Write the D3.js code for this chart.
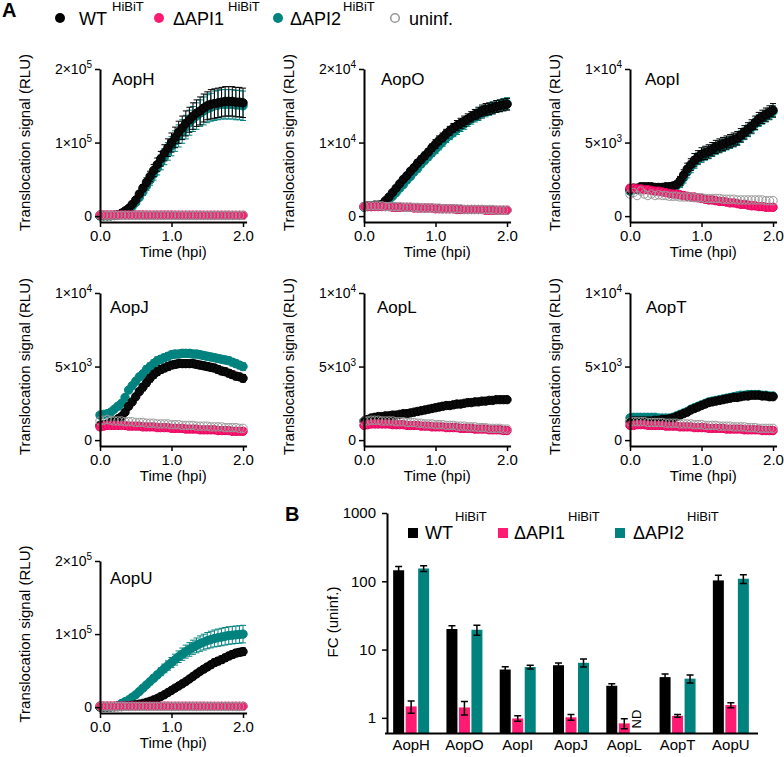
<!DOCTYPE html>
<html>
<head>
<meta charset="utf-8">
<script src="https://cdn.jsdelivr.net/npm/d3@7"></script>
<style>
  body { margin: 0; background: #fff; }
  svg { font-family: "Liberation Sans", Arial, sans-serif; }
</style>
</head>
<body>
<div id="fig"></div>
<script>
// time points (hpi)
const times = [0,0.05,0.1,0.15,0.2,0.25,0.3,0.35,0.4,0.45,0.5,0.55,0.6,0.65,0.7,0.75,0.8,0.85,0.9,0.95,1.0,
  1.05,1.1,1.15,1.2,1.25,1.3,1.35,1.4,1.45,1.5,1.55,1.6,1.65,1.7,1.75,1.8,1.85,1.9,1.95,2.0];
const xTicks = [0, 1, 2];

// translocation signal, in 10^3 RLU
const aopH_wt = [0.5,0.5,0.5,0.6,1,2,4,7,10.5,16,22,30,38,46,54,62,70,78,86,93,100,107,114,120,126,131,136,140,143,147,150,152,153,154,155,156,156,156,155,155,154];
const aopH_wtSd = [0,0,0,0,0.2,0.4,0.6,1,1.5,2,3,4,5,6,7,8,9,10,11,12,13,14,15,16,17,17,18,18,19,19,19,20,20,20,20,20,20,20,20,20,20];
const aopH_api2 = [0.5,0.5,0.5,0.5,0.8,1.5,3,5.5,8.5,13,18.5,25.5,33,41,49,57,65,73,81,88,95,102,109,115,121,127,132,136,140,143,146,148,150,151,152,152,152,152,151,151,150];
const aopH_api2Sd = [0,0,0,0,0.2,0.4,0.6,1,1.5,2,3,4,5,6,7,8,9,10,11,12,13,14,15,16,16,17,17,18,18,19,19,19,20,20,20,20,20,20,20,20,20];
const aopH_api1 = [1.6,1.6,1.5,1.5,1.5,1.5,1.5,1.5,1.5,1.5,1.5,1.5,1.5,1.4,1.4,1.4,1.4,1.4,1.4,1.4,1.4,1.3,1.3,1.3,1.3,1.3,1.3,1.3,1.3,1.2,1.2,1.2,1.2,1.2,1.2,1.2,1.2,1.1,1.1,1.1,1.1];
const aopH_uninf = [1.2,1.3,1.2,1.1,1.2,1.1,1.1,1.1,1.1,1.1,1.0,1.0,1.0,1.0,1.0,1.0,1.0,1.0,1.0,1.0,1.0,0.9,0.9,0.9,0.9,0.9,0.9,0.9,0.9,0.9,0.9,0.9,0.9,0.9,0.9,0.9,0.9,0.9,0.9,0.9,0.9];

const aopO_wt = [1.3,1.4,1.4,1.5,1.5,1.6,2.1,2.6,3.2,3.8,4.4,5.0,5.5,6.1,6.6,7.2,7.7,8.2,8.7,9.3,9.8,10.3,10.7,11.2,11.6,12.0,12.3,12.6,12.9,13.2,13.5,13.8,14.0,14.3,14.5,14.6,14.7,14.9,15.0,15.1,15.2];
const aopO_wtSd = [0.1,0.1,0.1,0.1,0.1,0.1,0.2,0.2,0.3,0.3,0.3,0.4,0.4,0.4,0.4,0.5,0.5,0.5,0.5,0.5,0.6,0.6,0.6,0.6,0.6,0.6,0.7,0.7,0.7,0.7,0.7,0.7,0.8,0.8,0.8,0.8,0.8,0.8,0.8,0.8,0.8];
const aopO_api2 = [1.2,1.3,1.3,1.4,1.4,1.5,1.8,2.2,2.7,3.2,3.8,4.3,4.9,5.4,6.0,6.5,7.1,7.6,8.1,8.6,9.1,9.6,10.1,10.6,11.0,11.4,11.8,12.2,12.5,12.9,13.2,13.5,13.8,14.1,14.3,14.5,14.7,14.9,15.0,15.2,15.3];
const aopO_api2Sd = [0.1,0.1,0.1,0.1,0.1,0.1,0.2,0.2,0.3,0.3,0.3,0.4,0.4,0.4,0.4,0.5,0.5,0.5,0.5,0.5,0.6,0.6,0.6,0.6,0.6,0.6,0.7,0.7,0.7,0.7,0.7,0.7,0.8,0.8,0.8,0.8,0.8,0.8,0.8,0.8,0.8];
const aopO_api1 = [1.3,1.3,1.3,1.3,1.3,1.3,1.3,1.3,1.2,1.2,1.2,1.2,1.2,1.2,1.1,1.1,1.1,1.1,1.1,1.1,1.0,1.0,1.0,1.0,1.0,1.0,0.9,0.9,0.9,0.9,0.9,0.9,0.9,0.9,0.8,0.8,0.8,0.8,0.8,0.8,0.8];
const aopO_uninf = [1.3,1.4,1.4,1.4,1.4,1.4,1.3,1.3,1.3,1.3,1.3,1.2,1.2,1.2,1.2,1.2,1.1,1.1,1.1,1.1,1.1,1.1,1.0,1.0,1.0,1.0,1.0,1.0,0.9,0.9,0.9,0.9,0.9,0.9,0.9,0.9,0.9,0.8,0.8,0.8,0.8];

const aopI_wt = [1.8,1.9,1.9,2.0,2.0,2.0,2.0,1.95,1.95,1.95,2.0,2.0,2.05,2.15,2.4,2.8,3.2,3.5,3.8,4.0,4.2,4.3,4.4,4.55,4.7,4.8,4.9,5.0,5.1,5.2,5.3,5.5,5.7,5.9,6.1,6.35,6.6,6.75,6.9,7.05,7.2];
const aopI_wtSd = [0.1,0.1,0.1,0.1,0.1,0.1,0.1,0.1,0.1,0.1,0.1,0.1,0.15,0.2,0.3,0.35,0.4,0.4,0.45,0.45,0.45,0.45,0.45,0.45,0.45,0.45,0.45,0.45,0.45,0.45,0.45,0.45,0.45,0.45,0.45,0.45,0.45,0.45,0.45,0.45,0.45];
const aopI_api2 = [1.7,1.8,1.8,1.9,1.9,1.9,1.9,1.9,1.9,1.9,1.9,1.95,2.0,2.05,2.25,2.6,3.0,3.35,3.65,3.9,4.05,4.2,4.3,4.45,4.6,4.7,4.8,4.9,5.0,5.1,5.2,5.4,5.6,5.8,6.0,6.25,6.5,6.65,6.8,6.95,7.1];
const aopI_api2Sd = [0.1,0.1,0.1,0.1,0.1,0.1,0.1,0.1,0.1,0.1,0.1,0.1,0.15,0.2,0.3,0.35,0.4,0.4,0.4,0.4,0.4,0.4,0.4,0.4,0.4,0.4,0.4,0.4,0.4,0.4,0.4,0.4,0.4,0.4,0.4,0.4,0.4,0.4,0.4,0.4,0.4];
const aopI_api1 = [1.9,1.9,1.85,1.85,1.8,1.8,1.75,1.7,1.7,1.65,1.6,1.55,1.5,1.5,1.45,1.4,1.35,1.3,1.3,1.25,1.2,1.15,1.1,1.1,1.05,1.0,1.0,0.95,0.9,0.9,0.85,0.8,0.8,0.75,0.7,0.7,0.65,0.65,0.6,0.6,0.6];
const aopI_uninf = [1.5,1.6,1.4,1.7,1.5,1.4,1.5,1.4,1.45,1.4,1.4,1.35,1.35,1.35,1.3,1.3,1.3,1.3,1.25,1.25,1.25,1.2,1.2,1.2,1.2,1.2,1.15,1.15,1.15,1.15,1.1,1.1,1.1,1.1,1.1,1.1,1.1,1.1,1.05,1.05,1.05];

const aopJ_wt = [1.0,1.05,1.1,1.2,1.3,1.45,1.6,1.9,2.3,2.6,2.95,3.3,3.6,3.9,4.2,4.45,4.65,4.8,4.9,5.0,5.1,5.15,5.2,5.2,5.2,5.2,5.2,5.15,5.1,5.05,5.0,4.95,4.9,4.8,4.7,4.65,4.55,4.45,4.35,4.3,4.2];
const aopJ_wtSd = [0.1,0.1,0.1,0.1,0.1,0.1,0.15,0.15,0.2,0.2,0.2,0.2,0.25,0.25,0.25,0.25,0.25,0.25,0.25,0.25,0.25,0.25,0.25,0.25,0.25,0.25,0.25,0.25,0.25,0.25,0.25,0.25,0.25,0.25,0.25,0.25,0.25,0.25,0.25,0.25,0.25];
const aopJ_api2 = [1.7,1.75,1.8,1.9,2.1,2.3,2.5,2.9,3.4,3.7,4.0,4.3,4.5,4.8,5.0,5.2,5.4,5.5,5.6,5.7,5.8,5.85,5.85,5.9,5.9,5.9,5.85,5.85,5.8,5.75,5.7,5.65,5.6,5.55,5.5,5.45,5.4,5.3,5.2,5.1,5.0];
const aopJ_api2Sd = [0.1,0.1,0.1,0.1,0.1,0.1,0.15,0.15,0.2,0.2,0.2,0.2,0.25,0.25,0.25,0.25,0.25,0.25,0.25,0.25,0.25,0.25,0.25,0.25,0.25,0.25,0.25,0.25,0.25,0.25,0.25,0.25,0.25,0.25,0.25,0.25,0.25,0.25,0.25,0.25,0.25];
const aopJ_api1 = [0.9,0.95,1.0,1.0,1.0,1.0,1.0,1.0,0.95,0.95,0.95,0.95,0.9,0.9,0.9,0.9,0.85,0.85,0.85,0.85,0.8,0.8,0.8,0.8,0.75,0.75,0.75,0.75,0.7,0.7,0.7,0.7,0.7,0.65,0.65,0.65,0.65,0.6,0.6,0.6,0.6];
const aopJ_uninf = [1.3,1.35,1.4,1.35,1.3,1.3,1.3,1.25,1.25,1.25,1.2,1.2,1.2,1.15,1.15,1.15,1.1,1.1,1.1,1.1,1.05,1.05,1.05,1.0,1.0,1.0,1.0,0.95,0.95,0.95,0.95,0.9,0.9,0.9,0.9,0.85,0.85,0.85,0.85,0.8,0.8];

const aopL_wt = [1.3,1.4,1.5,1.55,1.6,1.6,1.65,1.65,1.7,1.7,1.75,1.8,1.8,1.85,1.9,1.95,2.0,2.05,2.1,2.15,2.2,2.25,2.3,2.35,2.35,2.4,2.45,2.45,2.5,2.55,2.55,2.6,2.6,2.65,2.65,2.7,2.7,2.75,2.75,2.75,2.75];
const aopL_api1 = [1.0,1.05,1.1,1.1,1.1,1.1,1.1,1.1,1.05,1.05,1.05,1.05,1.0,1.0,1.0,1.0,0.95,0.95,0.95,0.9,0.9,0.9,0.9,0.85,0.85,0.85,0.85,0.8,0.8,0.8,0.8,0.75,0.75,0.75,0.75,0.7,0.7,0.7,0.7,0.65,0.65];
const aopL_uninf = [1.3,1.3,1.35,1.35,1.35,1.3,1.3,1.3,1.3,1.25,1.25,1.25,1.2,1.2,1.2,1.15,1.15,1.1,1.1,1.1,1.05,1.05,1.05,1.0,1.0,1.0,0.95,0.95,0.95,0.9,0.9,0.9,0.85,0.85,0.85,0.8,0.8,0.8,0.8,0.75,0.75];

const aopT_wt = [1.25,1.3,1.3,1.3,1.3,1.3,1.3,1.35,1.35,1.4,1.4,1.45,1.5,1.6,1.7,1.8,1.9,2.05,2.15,2.25,2.35,2.45,2.55,2.6,2.65,2.7,2.75,2.8,2.85,2.9,2.9,2.95,3.0,3.0,3.05,3.05,3.05,3.0,3.0,2.95,2.95];
const aopT_api2 = [1.5,1.55,1.55,1.55,1.55,1.55,1.55,1.55,1.5,1.5,1.5,1.5,1.55,1.65,1.75,1.85,1.95,2.1,2.2,2.3,2.4,2.5,2.6,2.65,2.7,2.75,2.8,2.85,2.9,2.95,3.0,3.05,3.05,3.1,3.1,3.1,3.1,3.05,3.05,3.0,3.0];
const aopT_api1 = [1.0,1.0,1.05,1.05,1.05,1.0,1.0,1.0,1.0,1.0,0.95,0.95,0.95,0.95,0.9,0.9,0.9,0.9,0.85,0.85,0.85,0.85,0.8,0.8,0.8,0.8,0.8,0.75,0.75,0.75,0.75,0.75,0.7,0.7,0.7,0.7,0.7,0.65,0.65,0.65,0.65];
const aopT_uninf = [1.25,1.25,1.25,1.25,1.25,1.2,1.2,1.2,1.2,1.2,1.15,1.15,1.15,1.15,1.1,1.1,1.1,1.1,1.05,1.05,1.05,1.0,1.0,1.0,1.0,0.95,0.95,0.95,0.95,0.9,0.9,0.9,0.9,0.85,0.85,0.85,0.8,0.8,0.8,0.8,0.8];

const aopU_wt = [0.3,0.3,0.3,0.4,0.5,0.6,0.8,1.2,1.8,2.5,3.3,4.2,5.2,6.5,8,10,12,14.5,17,20,23,26,29,32,35,38.5,42,45.5,49,52,55,58,61,63,65,67.5,70,72,74,75,76];
const aopU_wtSd = [0,0,0,0,0,0,0,0.1,0.2,0.3,0.4,0.5,0.6,0.7,0.9,1.1,1.3,1.5,1.8,2,2.3,2.5,2.8,3,3.2,3.4,3.6,3.8,4,4.2,4.4,4.6,4.8,5,5,5,5,5,5,5,5];
const aopU_api2 = [0.5,0.5,0.5,0.5,0.8,2,5,7.5,10,13.5,17,21.5,26,30.5,35,39.5,44,48.5,53,57,61,65,69,72.5,76,79,82,84.5,87,89,91,92.5,94,95,96,97,98,98.5,99,99.5,100];
const aopU_api2Sd = [0,0,0,0,0,0.2,0.5,0.8,1.1,1.5,1.9,2.4,2.9,3.4,3.9,4.4,4.9,5.4,5.9,6.4,6.9,7.4,7.9,8.4,8.9,9.3,9.7,10.1,10.5,10.8,11.1,11.4,11.6,11.8,12,12,12,12,12,12,12];
const aopU_api1 = [1.5,1.5,1.5,1.5,1.5,1.5,1.5,1.5,1.5,1.5,1.4,1.4,1.4,1.4,1.4,1.4,1.4,1.4,1.4,1.4,1.3,1.3,1.3,1.3,1.3,1.3,1.3,1.3,1.3,1.3,1.2,1.2,1.2,1.2,1.2,1.2,1.2,1.2,1.2,1.2,1.2];
const aopU_uninf = [1.1,1.2,1.1,1.1,1.0,1.0,1.0,1.0,1.0,1.0,1.0,1.0,1.0,1.0,1.0,1.0,1.0,1.0,1.0,1.0,0.9,0.9,0.9,0.9,0.9,0.9,0.9,0.9,0.9,0.9,0.9,0.9,0.9,0.9,0.9,0.9,0.9,0.9,0.9,0.9,0.9];

const panelNames = ["AopH", "AopO", "AopI", "AopJ", "AopL", "AopT", "AopU"];
const yMax = [200, 20, 10, 10, 10, 10, 200];
const yTicks = [[0, 100, 200], [0, 10, 20], [0, 5, 10], [0, 5, 10], [0, 5, 10], [0, 5, 10], [0, 100, 200]];
const yTickText = [
  ["0", "1×10^5", "2×10^5"], ["0", "1×10^4", "2×10^4"], ["0", "5×10^3", "1×10^4"],
  ["0", "5×10^3", "1×10^4"], ["0", "5×10^3", "1×10^4"], ["0", "5×10^3", "1×10^4"],
  ["0", "1×10^5", "2×10^5"]
];

// panel B: fold change over uninfected
const barGroups = ["AopH", "AopO", "AopI", "AopJ", "AopL", "AopT", "AopU"];
const fcWT = [145, 20, 5.1, 5.9, 2.95, 3.95, 103];
const fcWTsd = [20, 2.4, 0.5, 0.45, 0.22, 0.45, 20];
const fcAPI1 = [1.47, 1.42, 0.98, 1.02, 0.83, 1.07, 1.54];
const fcAPI1sd = [0.3, 0.32, 0.09, 0.1, 0.14, 0.05, 0.13];
const fcAPI2 = [154, 19.5, 5.55, 6.4, null, 3.75, 109];
const fcAPI2sd = [15, 3.3, 0.35, 0.85, null, 0.5, 16];
const fcTicks = [1, 10, 100, 1000];

const colWT = "#000000", colAPI1 = "#ff1a72", colAPI2 = "#00827f", colUninf = "#9a9a9a";

const panelSeries = [
  { wt: aopH_wt, wtSd: aopH_wtSd, api2: aopH_api2, api2Sd: aopH_api2Sd, api1: aopH_api1, uninf: aopH_uninf },
  { wt: aopO_wt, wtSd: aopO_wtSd, api2: aopO_api2, api2Sd: aopO_api2Sd, api1: aopO_api1, uninf: aopO_uninf },
  { wt: aopI_wt, wtSd: aopI_wtSd, api2: aopI_api2, api2Sd: aopI_api2Sd, api1: aopI_api1, uninf: aopI_uninf },
  { wt: aopJ_wt, wtSd: aopJ_wtSd, api2: aopJ_api2, api2Sd: aopJ_api2Sd, api1: aopJ_api1, uninf: aopJ_uninf },
  { wt: aopL_wt, api1: aopL_api1, uninf: aopL_uninf },
  { wt: aopT_wt, api2: aopT_api2, api1: aopT_api1, uninf: aopT_uninf },
  { wt: aopU_wt, wtSd: aopU_wtSd, api2: aopU_api2, api2Sd: aopU_api2Sd, api1: aopU_api1, uninf: aopU_uninf }
];

// where each small panel sits
const panelLayout = [
  { x0: 100, top: 69, zero: 216, titleX: 112, titleY: 85 },
  { x0: 364, top: 69, zero: 216, titleX: 381, titleY: 85 },
  { x0: 630, top: 69, zero: 216, titleX: 645, titleY: 85 },
  { x0: 100, top: 293, zero: 440, titleX: 110, titleY: 313 },
  { x0: 364, top: 293, zero: 440, titleX: 377, titleY: 313 },
  { x0: 630, top: 293, zero: 440, titleX: 646, titleY: 313 },
  { x0: 100, top: 561, zero: 707, titleX: 110, titleY: 584 }
];

const svg = d3.select("#fig").append("svg")
  .attr("width", 784)
  .attr("height", 757);

function styleAxis(g, fontSize) {
  g.select(".domain").attr("stroke", "#000").attr("stroke-width", 2);
  g.selectAll(".tick line").attr("stroke", "#000").attr("stroke-width", 1.5);
  g.selectAll(".tick text").attr("fill", "#000").style("font-size", fontSize + "px");
  g.attr("font-family", null);
}

function drawSeries(g, x, y, vals, sd, color, fill, stroke) {
  if (sd) {
    const idx = d3.range(vals.length).filter(j => sd[j] > 0);
    g.append("g").selectAll("path")
      .data(idx)
      .join("path")
      .attr("fill", "none")
      .attr("stroke", color)
      .attr("stroke-width", 1)
      .attr("d", j => {
        const cx = x(times[j]), hi = y(vals[j] + sd[j]), lo = y(vals[j] - sd[j]);
        return `M${cx - 3},${hi}H${cx + 3}M${cx},${hi}V${lo}M${cx - 3},${lo}H${cx + 3}`;
      });
  }
  g.append("g").selectAll("circle")
    .data(vals)
    .join("circle")
    .attr("cx", (d, j) => x(times[j]))
    .attr("cy", d => y(d))
    .attr("r", 4.2)
    .attr("fill", fill)
    .attr("stroke", stroke)
    .attr("stroke-width", 1);
}

panelNames.forEach((name, i) => {
  const L = panelLayout[i];
  const s = panelSeries[i];
  const axisY = L.zero + 6;
  const max = yMax[i];

  const x = d3.scaleLinear().domain([0, 2.05]).range([L.x0, L.x0 + 146.6]);
  const y = d3.scaleLinear().domain([-0.04 * max, max]).range([axisY, L.top]);

  const g = svg.append("g");

  if (s.api2) drawSeries(g, x, y, s.api2, s.api2Sd, colAPI2, colAPI2, colAPI2);
  drawSeries(g, x, y, s.wt, s.wtSd, colWT, "#0a0a0a", "#000");
  drawSeries(g, x, y, s.api1, null, colAPI1, colAPI1, "#e0005c");
  drawSeries(g, x, y, s.uninf, null, colUninf, "none", colUninf);

  const gx = svg.append("g")
    .attr("transform", `translate(0,${axisY})`)
    .call(d3.axisBottom(x).tickValues(xTicks).tickFormat(d3.format(".1f")).tickSize(5).tickSizeOuter(0));
  styleAxis(gx, 15);

  const gy = svg.append("g")
    .attr("transform", `translate(${L.x0},0)`)
    .call(d3.axisLeft(y).tickValues(yTicks[i]).tickSize(5).tickSizeOuter(0));
  styleAxis(gy, 14);
  gy.selectAll(".tick text").each(function(d, k) {
    const parts = yTickText[i][k].split("^");
    const t = d3.select(this).text(null);
    t.append("tspan").text(parts[0]);
    if (parts[1]) t.append("tspan").attr("dy", "-0.6em").style("font-size", "10px").text(parts[1]);
  });

  svg.append("text")
    .attr("x", L.titleX)
    .attr("y", L.titleY)
    .style("font-size", "17px")
    .text(name);

  svg.append("text")
    .attr("x", (L.x0 + 146.6 + L.x0) / 2)
    .attr("y", axisY + 35)
    .attr("text-anchor", "middle")
    .style("font-size", "15px")
    .text("Time (hpi)");

  svg.append("text")
    .attr("transform", `translate(${L.x0 - 70},${(L.top + L.zero) / 2}) rotate(-90)`)
    .attr("text-anchor", "middle")
    .style("font-size", "15px")
    .text("Translocation signal (RLU)");
});

// panel letters
svg.append("text").attr("x", 2).attr("y", 17).style("font-size", "20px").style("font-weight", "bold").text("A");
svg.append("text").attr("x", 285).attr("y", 521).style("font-size", "20px").style("font-weight", "bold").text("B");

// legend A
const legA = [
  { label: "WT", sup: true, cx: 60, tx: 79, sx: 112, fill: colWT, stroke: colWT },
  { label: "ΔAPI1", sup: true, cx: 159, tx: 173, sx: 228, fill: colAPI1, stroke: colAPI1 },
  { label: "ΔAPI2", sup: true, cx: 278, tx: 290, sx: 343, fill: colAPI2, stroke: colAPI2 },
  { label: "uninf.", sup: false, cx: 395, tx: 409, sx: 0, fill: "none", stroke: colUninf }
];
legA.forEach(d => {
  svg.append("circle").attr("cx", d.cx).attr("cy", 18).attr("r", d.fill === "none" ? 4.3 : 5)
    .attr("fill", d.fill).attr("stroke", d.stroke).attr("stroke-width", d.fill === "none" ? 1.6 : 0);
  svg.append("text").attr("x", d.tx).attr("y", 25).style("font-size", "18px").text(d.label);
  if (d.sup) svg.append("text").attr("x", d.sx).attr("y", 11).style("font-size", "13px").text("HiBiT");
});

// panel B bars
const xb = d3.scaleBand().domain(barGroups).range([384.5, 757.5]).padding(0);
const yb = d3.scaleLog().domain([0.6, 1000]).range([733, 513]);
const barSeries = [
  { vals: fcWT, sd: fcWTsd, color: colWT, off: -12.5 },
  { vals: fcAPI1, sd: fcAPI1sd, color: colAPI1, off: 0 },
  { vals: fcAPI2, sd: fcAPI2sd, color: colAPI2, off: 12.5 }
];
const bw = 11;
const center = k => xb(k) + xb.bandwidth() / 2;

barSeries.forEach(bs => {
  const rows = barGroups.map((k, j) => ({ k, v: bs.vals[j], sd: bs.sd[j] })).filter(r => r.v != null);
  svg.append("g").selectAll("rect")
    .data(rows)
    .join("rect")
    .attr("x", r => center(r.k) + bs.off - bw / 2)
    .attr("y", r => yb(r.v))
    .attr("width", bw)
    .attr("height", r => yb.range()[0] - yb(r.v))
    .attr("fill", bs.color);
  svg.append("g").selectAll("path")
    .data(rows)
    .join("path")
    .attr("fill", "none")
    .attr("stroke", "#000")
    .attr("stroke-width", 1.5)
    .attr("d", r => {
      const cx = center(r.k) + bs.off, hi = yb(r.v + r.sd), lo = yb(r.v - r.sd);
      return `M${cx - 3.5},${hi}H${cx + 3.5}M${cx},${hi}V${lo}M${cx - 3.5},${lo}H${cx + 3.5}`;
    });
});

svg.append("text")
  .attr("transform", `translate(${center("AopL") + 12.5},719) rotate(-90)`)
  .attr("text-anchor", "middle")
  .attr("dy", "0.36em")
  .style("font-size", "13px")
  .text("ND");

const gbx = svg.append("g")
  .attr("transform", `translate(0,${yb.range()[0]})`)
  .call(d3.axisBottom(xb).tickSize(0).tickPadding(6).tickSizeOuter(0));
styleAxis(gbx, 15);

const gby = svg.append("g")
  .attr("transform", "translate(387,0)")
  .call(d3.axisLeft(yb).tickValues(fcTicks).tickFormat(d3.format("d")).tickSize(5).tickPadding(6).tickSizeOuter(0));
styleAxis(gby, 15);

svg.append("text")
  .attr("transform", "translate(338,622) rotate(-90)")
  .attr("text-anchor", "middle")
  .style("font-size", "15px")
  .text("FC (uninf.)");

// legend B
const legB = [
  { label: "WT", sqx: 408, tx: 425, sx: 455, color: colWT },
  { label: "ΔAPI1", sqx: 498, tx: 514, sx: 568, color: colAPI1 },
  { label: "ΔAPI2", sqx: 615, tx: 633, sx: 687, color: colAPI2 }
];
legB.forEach(d => {
  svg.append("rect").attr("x", d.sqx).attr("y", 528).attr("width", 10).attr("height", 10).attr("fill", d.color);
  svg.append("text").attr("x", d.tx).attr("y", 539).style("font-size", "18px").text(d.label);
  svg.append("text").attr("x", d.sx).attr("y", 521).style("font-size", "13px").text("HiBiT");
});
</script>
</body>
</html>
